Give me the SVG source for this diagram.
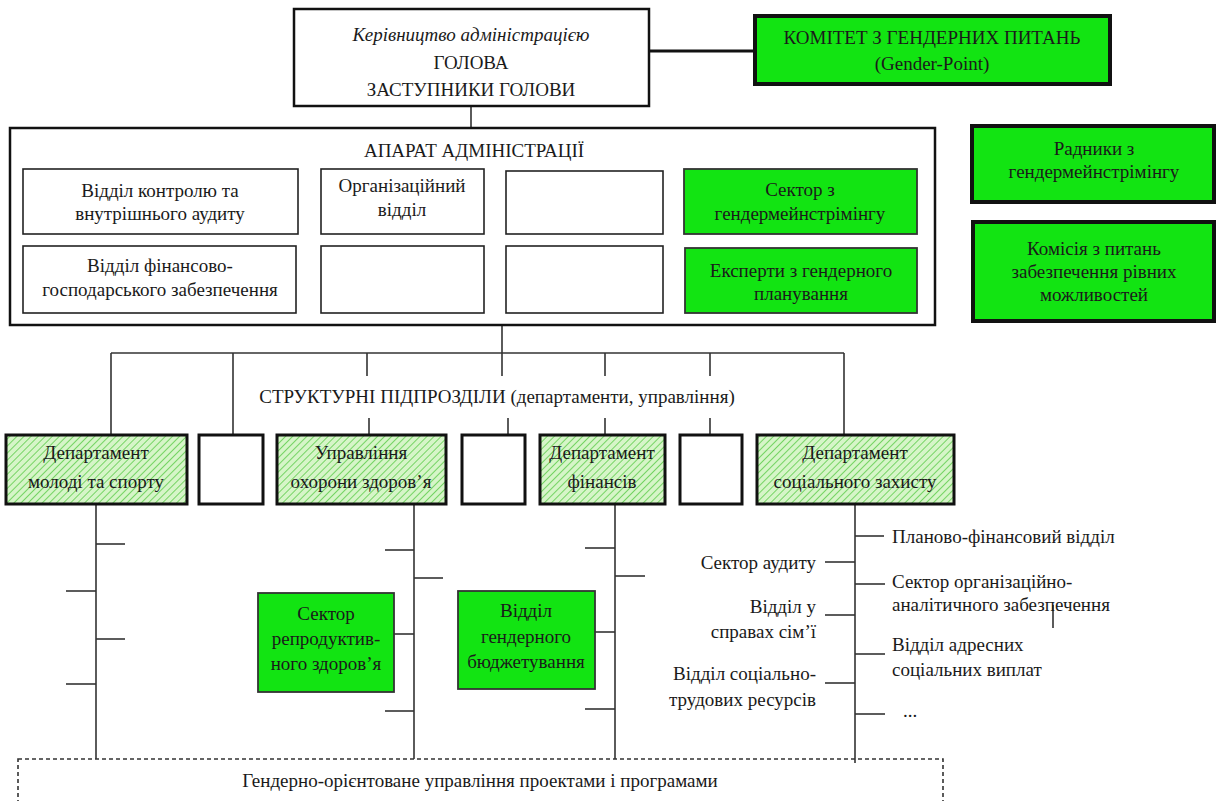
<svg xmlns="http://www.w3.org/2000/svg" width="1219" height="801" viewBox="0 0 1219 801">
<defs>
<style>
.t{font-family:'Liberation Serif','Times New Roman',serif;font-size:19px;fill:#1a1a1a;text-anchor:middle}
.tl{text-anchor:start}
.tr{text-anchor:end}
.g{fill:#12e412}
.ln{stroke:#333;stroke-width:1.6;fill:none}
.box{fill:#fff;stroke:#222;stroke-width:1.6}
.gb{fill:#12e412;stroke:#333;stroke-width:1.8}
.hb{fill:url(#hatch);stroke:#111;stroke-width:3}
</style>
<pattern id="hatch" patternUnits="userSpaceOnUse" width="5" height="5" patternTransform="rotate(45)">
<rect width="5" height="5" fill="#d6f5c8"/>
<line x1="0" y1="0" x2="0" y2="5" stroke="#5ccc4a" stroke-width="1.6"/>
</pattern>
</defs>
<rect width="1219" height="801" fill="#fff"/>

<g id="connectors">
<line class="ln" x1="471" y1="106" x2="471" y2="128"/>
<line x1="649" y1="51" x2="755" y2="51" stroke="#111" stroke-width="3"/>
<line class="ln" x1="111" y1="353" x2="844" y2="353"/>
<line class="ln" x1="502" y1="325" x2="502" y2="376"/>
<line class="ln" x1="111" y1="353" x2="111" y2="435"/>
<line class="ln" x1="233" y1="353" x2="233" y2="435"/>
<line class="ln" x1="367" y1="353" x2="367" y2="376"/>
<line class="ln" x1="369" y1="418" x2="369" y2="435"/>
<line class="ln" x1="508" y1="418" x2="508" y2="435"/>
<line class="ln" x1="605" y1="353" x2="605" y2="376"/>
<line class="ln" x1="605" y1="418" x2="605" y2="435"/>
<line class="ln" x1="710" y1="353" x2="710" y2="376"/>
<line class="ln" x1="710" y1="418" x2="710" y2="435"/>
<line class="ln" x1="844" y1="353" x2="844" y2="435"/>
<line class="ln" x1="96" y1="504" x2="96" y2="759"/>
<line class="ln" x1="96" y1="544" x2="125" y2="544"/>
<line class="ln" x1="66" y1="591" x2="96" y2="591"/>
<line class="ln" x1="96" y1="639" x2="125" y2="639"/>
<line class="ln" x1="66" y1="684" x2="96" y2="684"/>
<line class="ln" x1="414" y1="504" x2="414" y2="759"/>
<line class="ln" x1="385" y1="550" x2="414" y2="550"/>
<line class="ln" x1="414" y1="578" x2="443" y2="578"/>
<line class="ln" x1="394" y1="634" x2="414" y2="634"/>
<line class="ln" x1="385" y1="711" x2="414" y2="711"/>
<line class="ln" x1="615" y1="504" x2="615" y2="759"/>
<line class="ln" x1="585" y1="548" x2="615" y2="548"/>
<line class="ln" x1="615" y1="576" x2="645" y2="576"/>
<line class="ln" x1="595" y1="632" x2="615" y2="632"/>
<line class="ln" x1="585" y1="709" x2="615" y2="709"/>
<line class="ln" x1="855" y1="504" x2="855" y2="763"/>
<line class="ln" x1="855" y1="536" x2="884" y2="536"/>
<line class="ln" x1="825" y1="562" x2="855" y2="562"/>
<line class="ln" x1="855" y1="584" x2="885" y2="584"/>
<line class="ln" x1="825" y1="615" x2="855" y2="615"/>
<line class="ln" x1="855" y1="654" x2="885" y2="654"/>
<line class="ln" x1="825" y1="683" x2="855" y2="683"/>
<line class="ln" x1="855" y1="714" x2="885" y2="714"/>
<line class="ln" x1="1053" y1="605" x2="1053" y2="628"/>
</g>

<g id="head">
<rect x="294" y="9" width="355" height="97" fill="#fff" stroke="#111" stroke-width="2.5"/>
<text class="t" x="471" y="41" font-style="italic">Керівництво адміністрацією</text>
<text class="t" x="471" y="69">ГОЛОВА</text>
<text class="t" x="471" y="96">ЗАСТУПНИКИ ГОЛОВИ</text>
</g>

<g id="committee">
<rect class="g" x="755" y="16" width="355" height="68" stroke="#111" stroke-width="4"/>
<text class="t" x="932" y="44">КОМІТЕТ З ГЕНДЕРНИХ ПИТАНЬ</text>
<text class="t" x="932" y="70" font-size="17">(Gender-Point)</text>
</g>

<g id="apparatus">
<rect x="10" y="128" width="925" height="197" fill="#fff" stroke="#111" stroke-width="2.5"/>
<text class="t" x="474" y="157">АПАРАТ АДМІНІСТРАЦІЇ</text>
</g>
<g id="control">
<rect class="box" x="23" y="169" width="275" height="65"/>
<text class="t" x="160" y="197">Відділ контролю та</text>
<text class="t" x="160" y="220">внутрішнього аудиту</text>
</g>
<g id="finance-econ">
<rect class="box" x="23" y="246" width="273" height="67"/>
<text class="t" x="160" y="272">Відділ фінансово-</text>
<text class="t" x="160" y="296">господарського забезпечення</text>
</g>
<g id="org">
<rect class="box" x="321" y="169" width="163" height="65"/>
<text class="t" x="402" y="192">Організаційний</text>
<text class="t" x="402" y="216">відділ</text>
</g>
<g id="empty-b2"><rect class="box" x="321" y="246" width="163" height="67"/></g>
<g id="empty-c1"><rect class="box" x="506" y="171" width="157" height="63"/></g>
<g id="empty-c2"><rect class="box" x="506" y="246" width="157" height="67"/></g>
<g id="sector-gm">
<rect class="gb" x="684" y="169" width="233" height="65"/>
<text class="t" x="800" y="196">Сектор з</text>
<text class="t" x="800" y="220">гендермейнстрімінгу</text>
</g>
<g id="experts">
<rect class="gb" x="685" y="248" width="232" height="65"/>
<text class="t" x="801" y="277">Експерти з гендерного</text>
<text class="t" x="801" y="300">планування</text>
</g>

<g id="advisers">
<rect class="g" x="972" y="126" width="242" height="76" stroke="#111" stroke-width="4"/>
<text class="t" x="1094" y="155">Радники з</text>
<text class="t" x="1094" y="178">гендермейнстрімінгу</text>
</g>
<g id="commission">
<rect class="g" x="973" y="222" width="241" height="99" stroke="#111" stroke-width="4"/>
<text class="t" x="1094" y="255">Комісія з питань</text>
<text class="t" x="1094" y="278">забезпечення рівних</text>
<text class="t" x="1094" y="301">можливостей</text>
</g>

<g id="structural-label">
<text class="t" x="497" y="403">СТРУКТУРНІ ПІДПРОЗДІЛИ (департаменти, управління)</text>
</g>

<g id="dept-youth">
<rect class="hb" x="6" y="435" width="181" height="69"/>
<text class="t" x="96" y="459">Департамент</text>
<text class="t" x="96" y="488">молоді та спорту</text>
</g>
<g id="empty-d2"><rect x="199" y="435" width="64" height="69" fill="#fff" stroke="#111" stroke-width="3"/></g>
<g id="dept-health">
<rect class="hb" x="277" y="435" width="169" height="69"/>
<text class="t" x="361" y="459">Управління</text>
<text class="t" x="361" y="488">охорони здоров’я</text>
</g>
<g id="empty-d4"><rect x="462" y="435" width="63" height="69" fill="#fff" stroke="#111" stroke-width="3"/></g>
<g id="dept-fin">
<rect class="hb" x="540" y="435" width="125" height="69"/>
<text class="t" x="602" y="459">Департамент</text>
<text class="t" x="602" y="488">фінансів</text>
</g>
<g id="empty-d6"><rect x="680" y="435" width="62" height="69" fill="#fff" stroke="#111" stroke-width="3"/></g>
<g id="dept-social">
<rect class="hb" x="757" y="435" width="197" height="69"/>
<text class="t" x="855" y="459">Департамент</text>
<text class="t" x="855" y="488">соціального захисту</text>
</g>

<g id="repro">
<rect class="gb" x="258" y="593" width="136" height="99"/>
<text class="t" x="326" y="620">Сектор</text>
<text class="t" x="326" y="645">репродуктив-</text>
<text class="t" x="326" y="670">ного здоров’я</text>
</g>
<g id="budget">
<rect class="gb" x="458" y="591" width="137" height="98"/>
<text class="t" x="526" y="617">Відділ</text>
<text class="t" x="526" y="643">гендерного</text>
<text class="t" x="526" y="668">бюджетування</text>
</g>

<g id="social-units">
<text class="t tl" x="892" y="543">Планово-фінансовий відділ</text>
<text class="t tr" x="816" y="569">Сектор аудиту</text>
<text class="t tl" x="892" y="588">Сектор організаційно-</text>
<text class="t tl" x="892" y="611">аналітичного забезпечення</text>
<text class="t tr" x="816" y="613">Відділ у</text>
<text class="t tr" x="816" y="638">справах сім’ї</text>
<text class="t tl" x="892" y="651">Відділ адресних</text>
<text class="t tl" x="892" y="676">соціальних виплат</text>
<text class="t tr" x="816" y="680">Відділ соціально-</text>
<text class="t tr" x="816" y="706">трудових ресурсів</text>
<text class="t tl" x="903" y="717" font-size="13">...</text>
</g>

<g id="projects">
<rect x="18" y="759" width="925" height="60" fill="none" stroke="#333" stroke-width="1.6" stroke-dasharray="4,3"/>
<text class="t" x="480" y="787">Гендерно-орієнтоване управління проектами і програмами</text>
</g>
</svg>
